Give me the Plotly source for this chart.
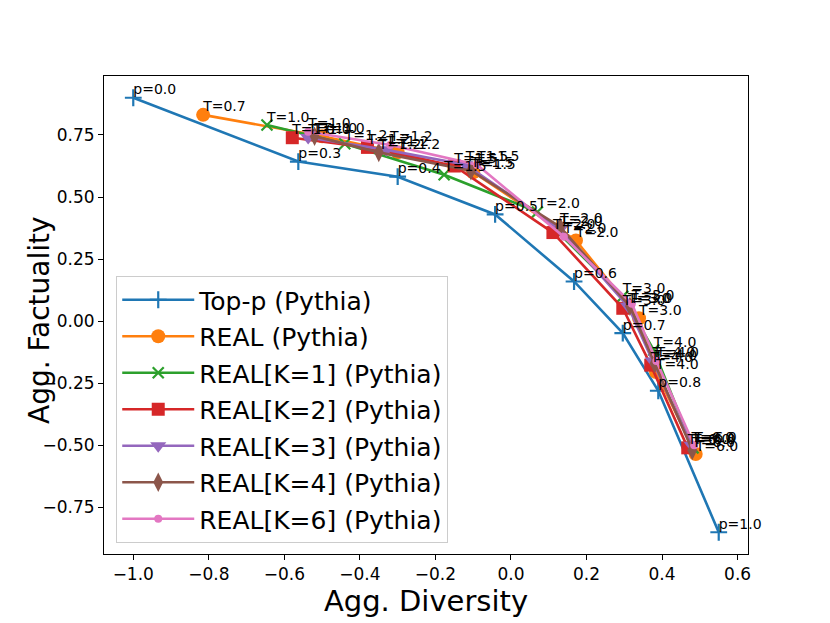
import plotly.graph_objects as go

# Top-p (Pythia)
topp_labels = ["p=0.0", "p=0.3", "p=0.4", "p=0.5", "p=0.6", "p=0.7", "p=0.8", "p=1.0"]
topp_x = [-1.0, -0.563, -0.30, -0.042, 0.167, 0.296, 0.39, 0.55]
topp_y = [0.90, 0.643, 0.582, 0.43, 0.16, -0.048, -0.28, -0.85]

# REAL (Pythia)
real_labels = ["T=0.7", "T=1.0", "T=1.2", "T=1.5", "T=2.0", "T=3.0", "T=4.0", "T=6.0"]
real_x = [-0.815, -0.50, -0.30, -0.10, 0.172, 0.339, 0.384, 0.489]
real_y = [0.831, 0.745, 0.68, 0.60, 0.325, 0.012, -0.205, -0.535]

k_labels = ["T=1.0", "T=1.2", "T=1.5", "T=2.0", "T=3.0", "T=4.0", "T=6.0"]
k1_x = [-0.646, -0.44, -0.177, 0.07, 0.296, 0.378, 0.482]
k1_y = [0.79, 0.715, 0.59, 0.44, 0.10, -0.116, -0.51]
k2_x = [-0.579, -0.38, -0.15, 0.111, 0.296, 0.37, 0.468]
k2_y = [0.739, 0.70, 0.625, 0.357, 0.052, -0.177, -0.51]
k3_x = [-0.537, -0.33, -0.12, 0.13, 0.31, 0.375, 0.478]
k3_y = [0.74, 0.69, 0.63, 0.37, 0.06, -0.16, -0.50]
k4_x = [-0.52, -0.35, -0.106, 0.13, 0.315, 0.38, 0.48]
k4_y = [0.745, 0.68, 0.606, 0.38, 0.06, -0.17, -0.52]
k6_x = [-0.537, -0.32, -0.09, 0.14, 0.32, 0.385, 0.485]
k6_y = [0.763, 0.71, 0.63, 0.34, 0.07, -0.16, -0.50]

x_ticks = [-1.0, -0.8, -0.6, -0.4, -0.2, 0.0, 0.2, 0.4, 0.6]
y_ticks = [-0.75, -0.5, -0.25, 0.0, 0.25, 0.5, 0.75]

series = [
    ("Top-p (Pythia)", topp_x, topp_y, topp_labels, "#1f77b4", dict(symbol="cross-thin", size=12, line=dict(width=2.2, color="#1f77b4"))),
    ("REAL (Pythia)", real_x, real_y, real_labels, "#ff7f0e", dict(symbol="circle", size=14)),
    ("REAL[K=1] (Pythia)", k1_x, k1_y, k_labels, "#2ca02c", dict(symbol="x-thin", size=11, line=dict(width=2.2, color="#2ca02c"))),
    ("REAL[K=2] (Pythia)", k2_x, k2_y, k_labels, "#d62728", dict(symbol="square", size=13)),
    ("REAL[K=3] (Pythia)", k3_x, k3_y, k_labels, "#9467bd", dict(symbol="triangle-down", size=14)),
    ("REAL[K=4] (Pythia)", k4_x, k4_y, k_labels, "#8c564b", dict(symbol="diamond-tall", size=14)),
    ("REAL[K=6] (Pythia)", k6_x, k6_y, k_labels, "#e377c2", dict(symbol="circle", size=8)),
]

fig = go.Figure()
for i, (name, xs, ys, labels, color, marker) in enumerate(series):
    marker = dict(marker, color=color)
    fig.add_trace(go.Scatter(
        x=xs, y=ys, mode="lines+markers", name=name,
        line=dict(color=color, width=2.6), marker=marker,
        legendgroup=f"g{i}",
    ))
for i, (name, xs, ys, labels, color, marker) in enumerate(series):
    fig.add_trace(go.Scatter(
        x=xs, y=ys, mode="text", text=labels, textposition="top right",
        textfont=dict(family="DejaVu Sans", size=14, color="black"),
        showlegend=False, hoverinfo="skip", cliponaxis=False,
    ))

axis_common = dict(
    showline=True, mirror=True, linecolor="black", linewidth=1,
    ticks="outside", ticklen=5, tickcolor="black", showgrid=False, zeroline=False,
    tickfont=dict(family="DejaVu Sans", size=17, color="black"),
)
fig.update_xaxes(range=[-1.0775, 0.6275], tickvals=x_ticks, tickformat=".1f",
                 title=dict(text="Agg. Diversity", font=dict(family="DejaVu Sans", size=29, color="black"), standoff=4),
                 **axis_common)
fig.update_yaxes(range=[-0.9375, 0.9875], tickvals=y_ticks, tickformat=".2f",
                 **axis_common)

fig.add_annotation(
    text="Agg. Factuality", xref="paper", yref="paper", x=-0.099, y=0.49,
    xanchor="center", yanchor="middle", textangle=-90, showarrow=False,
    font=dict(family="DejaVu Sans", size=28, color="black"),
)

fig.update_layout(
    width=822, height=615,
    margin=dict(l=96, r=82, t=68, b=69),
    plot_bgcolor="white", paper_bgcolor="white",
    font=dict(family="DejaVu Sans", color="black"),
    legend=dict(
        x=0.019, y=0.023, xanchor="left", yanchor="bottom",
        font=dict(family="DejaVu Sans", size=25, color="black"),
        bgcolor="rgba(255,255,255,0.8)", bordercolor="#cccccc", borderwidth=1,
        tracegroupgap=1, itemwidth=72,
    ),
)

fig.write_html("out.html")
